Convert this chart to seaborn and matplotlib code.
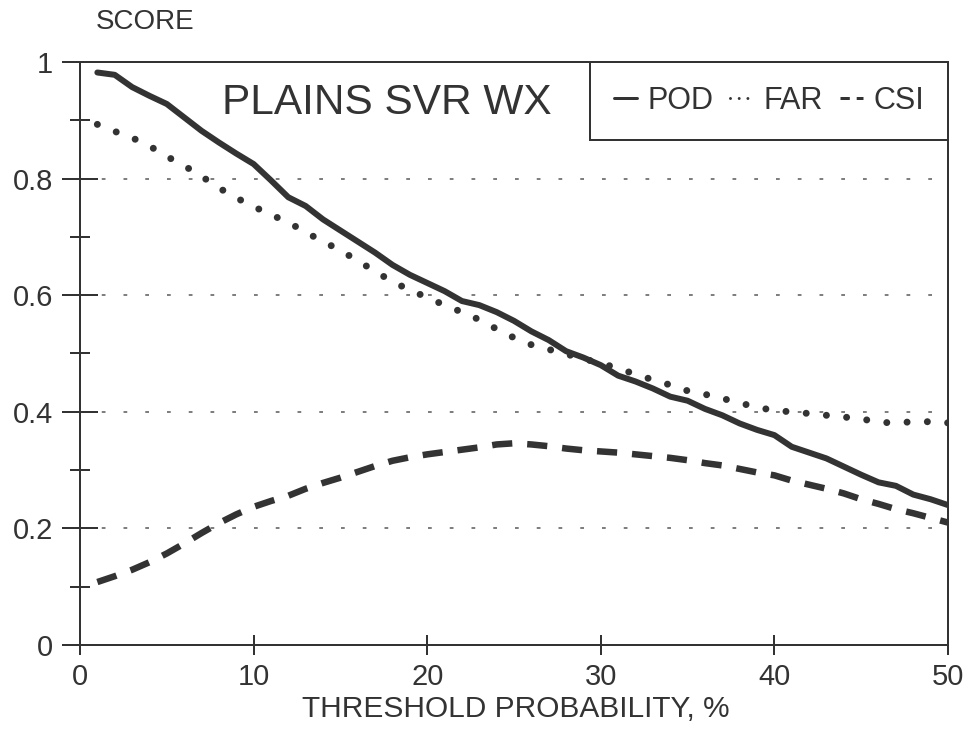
import numpy as np
import pandas as pd
import matplotlib
matplotlib.use("Agg")
import matplotlib.pyplot as plt
import seaborn as sns
from matplotlib.ticker import MultipleLocator

threshold = list(range(1, 51))
pod = [0.982, 0.978, 0.957, 0.942, 0.928, 0.905, 0.882, 0.862, 0.843, 0.825,
       0.797, 0.768, 0.753, 0.730, 0.711, 0.692, 0.673, 0.652, 0.635, 0.621,
       0.607, 0.590, 0.583, 0.571, 0.556, 0.538, 0.523, 0.504, 0.493, 0.480,
       0.462, 0.452, 0.440, 0.426, 0.419, 0.405, 0.394, 0.380, 0.369, 0.360,
       0.340, 0.330, 0.320, 0.306, 0.292, 0.279, 0.273, 0.258, 0.250, 0.240]
far = [0.893, 0.881, 0.870, 0.856, 0.838, 0.822, 0.804, 0.784, 0.767, 0.752,
       0.738, 0.725, 0.708, 0.692, 0.677, 0.659, 0.641, 0.623, 0.609, 0.596,
       0.583, 0.571, 0.558, 0.542, 0.527, 0.515, 0.507, 0.499, 0.491, 0.483,
       0.475, 0.464, 0.455, 0.446, 0.436, 0.430, 0.423, 0.415, 0.408, 0.402,
       0.400, 0.397, 0.394, 0.391, 0.388, 0.382, 0.381, 0.383, 0.383, 0.381]
csi = [0.108, 0.118, 0.129, 0.142, 0.157, 0.174, 0.192, 0.209, 0.224, 0.237,
       0.247, 0.256, 0.268, 0.278, 0.287, 0.297, 0.307, 0.316, 0.322, 0.327,
       0.331, 0.335, 0.339, 0.344, 0.346, 0.344, 0.341, 0.337, 0.334, 0.332,
       0.330, 0.327, 0.324, 0.321, 0.317, 0.312, 0.308, 0.302, 0.296, 0.291,
       0.282, 0.275, 0.268, 0.260, 0.250, 0.242, 0.233, 0.226, 0.218, 0.210]
series_names = ["POD", "FAR", "CSI"]
x_ticks = [0, 10, 20, 30, 40, 50]
y_ticks = [0, 0.2, 0.4, 0.6, 0.8, 1]
y_tick_labels = ["0", "0.2", "0.4", "0.6", "0.8", "1"]
title_text = "PLAINS SVR WX"
x_label = "THRESHOLD PROBABILITY, %"
y_label = "SCORE"

sns.set_style("white")
plt.rcParams["font.family"] = ["Liberation Sans", "DejaVu Sans"]

INK = "#333333"
px = 0.72  # points per pixel at dpi 100

fig = plt.figure(figsize=(9.66, 7.5), dpi=100)
ax = fig.add_axes([80 / 966, 1 - 645 / 750, 868 / 966, 583 / 750])

lw = 6 * px
sns.lineplot(x=threshold, y=pod, ax=ax, color=INK, linewidth=lw,
             label=series_names[0], errorbar=None,
             solid_capstyle="round", solid_joinstyle="round")
sns.lineplot(x=threshold, y=far, ax=ax, color=INK, linewidth=7 * px,
             label=series_names[1], errorbar=None,
             linestyle=(0, (0.001, 2.9)), dash_capstyle="round")
sns.lineplot(x=threshold, y=csi, ax=ax, color=INK, linewidth=6.5 * px,
             label=series_names[2], errorbar=None,
             linestyle=(0, (3.1, 2.3)), dash_capstyle="butt")

ax.set_xlim(0, 50)
ax.set_ylim(0, 1)
ax.set_xticks(x_ticks)
ax.set_yticks(y_ticks)
ax.set_yticklabels(y_tick_labels)
ax.yaxis.set_minor_locator(MultipleLocator(0.1))

for yv in y_ticks[1:-1]:
    ax.axhline(yv, color="#555555", linewidth=1.5 * px,
               linestyle=(0, (2.5, 12)), zorder=0)

for s in ax.spines.values():
    s.set_visible(True)
    s.set_color(INK)
    s.set_linewidth(2 * px)

ax.tick_params(axis="y", which="major", direction="inout", length=36 * px,
               width=2 * px, color=INK, labelsize=21, labelcolor=INK,
               pad=9 * px, left=True)
ax.tick_params(axis="y", which="minor", direction="inout", length=20 * px,
               width=2 * px, color=INK, left=True)
ax.tick_params(axis="x", which="major", direction="inout", length=20 * px,
               width=2 * px, color=INK, labelsize=21, labelcolor=INK,
               pad=8 * px, bottom=True)
ax.set_xlabel("")
ax.set_ylabel("")

fig.text(145 / 966, 1 - 22 / 750, y_label, ha="center", va="center",
         fontsize=20, color=INK)
fig.text(516 / 966, 1 - 709 / 750, x_label, ha="center", va="center",
         fontsize=21.5, color=INK)
fig.text(387 / 966, 1 - 103 / 750, title_text, ha="center", va="center",
         fontsize=30.5, color=INK)

leg = ax.legend(loc="upper right", bbox_to_anchor=(1, 1), borderaxespad=0,
                ncol=3, fontsize=22, frameon=True, fancybox=False,
                handlelength=0.75, handletextpad=0.35, columnspacing=0.55,
                borderpad=0.78, labelcolor=INK)
frame = leg.get_frame()
frame.set_edgecolor(INK)
frame.set_linewidth(2 * px)
frame.set_alpha(1)
for h in leg.get_lines():
    h.set_linewidth(3 * px)

fig.savefig("out.png", dpi=100)
